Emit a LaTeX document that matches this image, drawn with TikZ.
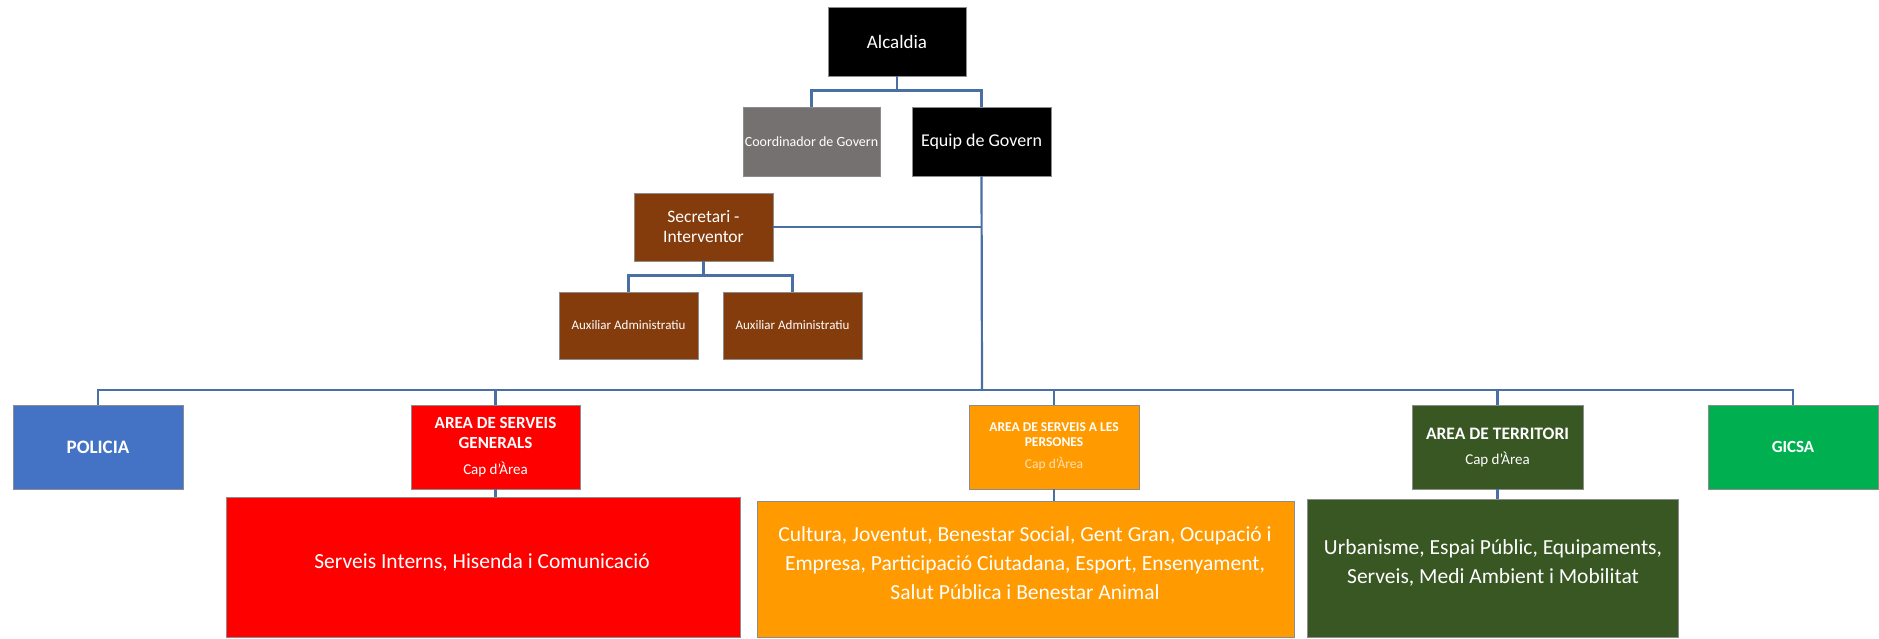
\documentclass[tikz,border=0pt]{standalone}
\usepackage{fontspec}
\setmainfont{Carlito}
\usepackage{xcolor}
\usepackage{tikz}

\definecolor{coordgray}{HTML}{767171}
\definecolor{secbrown}{HTML}{843C0C}
\definecolor{polblue}{HTML}{4472C4}
\definecolor{sgred}{HTML}{FF0000}
\definecolor{perorange}{HTML}{FF9A00}
\definecolor{terrgreen}{HTML}{385723}
\definecolor{gicsagreen}{HTML}{00B050}
\definecolor{linkblue}{HTML}{4A6FA5}

\begin{document}
\begin{tikzpicture}[x=1pt,y=-1pt,
  box/.style={draw=black!45, line width=0.8pt, text=white, align=center, inner sep=0pt},
  areabox/.style={box, minimum width=170, minimum height=84},
  bigtext/.style={text=white, align=center, inner sep=0pt, font=\fontsize{21.5}{29}\selectfont},
  link/.style={linkblue, line width=2.2pt}]
\useasboundingbox (0,0) rectangle (1879,638);

% govern
\node[box, fill=black, minimum width=138, minimum height=69, font=\fontsize{19}{22}\selectfont] (alc) at (897,41.5) {Alcaldia};
\node[box, fill=coordgray, minimum width=137, minimum height=69, font=\fontsize{14}{16}\selectfont] (coord) at (811.5,141.5) {Coordinador de Govern};
\node[box, fill=black, minimum width=139, minimum height=69, font=\fontsize{18}{21}\selectfont] (equip) at (981.5,141.5) {Equip de Govern};

\node[box, fill=secbrown, minimum width=139, minimum height=68, font=\fontsize{17.5}{20}\selectfont] (sec) at (703.5,227) {Secretari -\\Interventor};
\node[box, fill=secbrown, minimum width=139, minimum height=67, font=\fontsize{13}{15}\selectfont] (aux1) at (628.5,325.5) {Auxiliar Administratiu};
\node[box, fill=secbrown, minimum width=139, minimum height=67, font=\fontsize{13}{15}\selectfont] (aux2) at (792.5,325.5) {Auxiliar Administratiu};

% arees
\node[areabox, fill=polblue, font=\fontsize{19}{22}\selectfont\bfseries] (pol) at (98,447) {POLICIA};
\node[areabox, fill=sgred, minimum width=169, font=\fontsize{17}{20.5}\selectfont] (sg) at (495.5,447) {\textbf{AREA DE SERVEIS}\\\textbf{GENERALS}\\[5pt]{\fontsize{15}{17}\selectfont Cap d'Àrea}};
\node[areabox, fill=perorange, font=\fontsize{13.5}{15}\selectfont] (per) at (1054,447) {\textbf{AREA DE SERVEIS A LES}\\\textbf{PERSONES}\\[7pt]{\color{white!70!perorange}Cap d'Àrea}};
\node[areabox, fill=terrgreen, minimum width=171, font=\fontsize{17.5}{20}\selectfont] (ter) at (1497.5,447) {\textbf{AREA DE TERRITORI}\\[5pt]{\fontsize{15}{17}\selectfont Cap d'Àrea}};
\node[areabox, fill=gicsagreen, font=\fontsize{17}{20}\selectfont\bfseries] (gicsa) at (1793,447) {GICSA};

\node[box, fill=sgred, minimum width=514, minimum height=140] (sgbox) at (483,567) {};
\node[bigtext] (sgtxt) at (482,562) {Serveis Interns, Hisenda i Comunicació};
\node[box, fill=perorange, minimum width=537, minimum height=136] (perbox) at (1025.5,569) {};
\node[bigtext] (pertxt) at (1025,563) {Cultura, Joventut, Benestar Social, Gent Gran, Ocupació i\\Empresa, Participació Ciutadana, Esport, Ensenyament,\\Salut Pública i Benestar Animal};
\node[box, fill=terrgreen, minimum width=371, minimum height=138] (terbox) at (1492.5,568) {};
\node[bigtext] (tertxt) at (1493,563) {Urbanisme, Espai Públic, Equipaments,\\Serveis, Medi Ambient i Mobilitat};

% connectors
\draw[link] (alc.south) -- ++(0,14) -| (coord.north);
\draw[link] (alc.south) -- ++(0,14) -| (equip.north);
\draw[link] (sec.east) -- (sec.east -| equip.south);
\draw[link] (sec.south) -- ++(0,14) -| (aux1.north);
\draw[link] (sec.south) -- ++(0,14) -| (aux2.north);

\coordinate (bus) at (982,390);
\draw[link] (equip.south) -- (bus);
\draw[link] (pol.north) -- (pol.north |- bus) -- (gicsa.north |- bus) -- (gicsa.north);
\foreach \n in {sg,per,ter}
  \draw[link] (\n.north) -- (\n.north |- bus);

\draw[link] (sg.south) -- (sg.south |- sgbox.north);
\draw[link] (per.south) -- (per.south |- perbox.north);
\draw[link] (ter.south) -- (ter.south |- terbox.north);

\end{tikzpicture}
\end{document}
